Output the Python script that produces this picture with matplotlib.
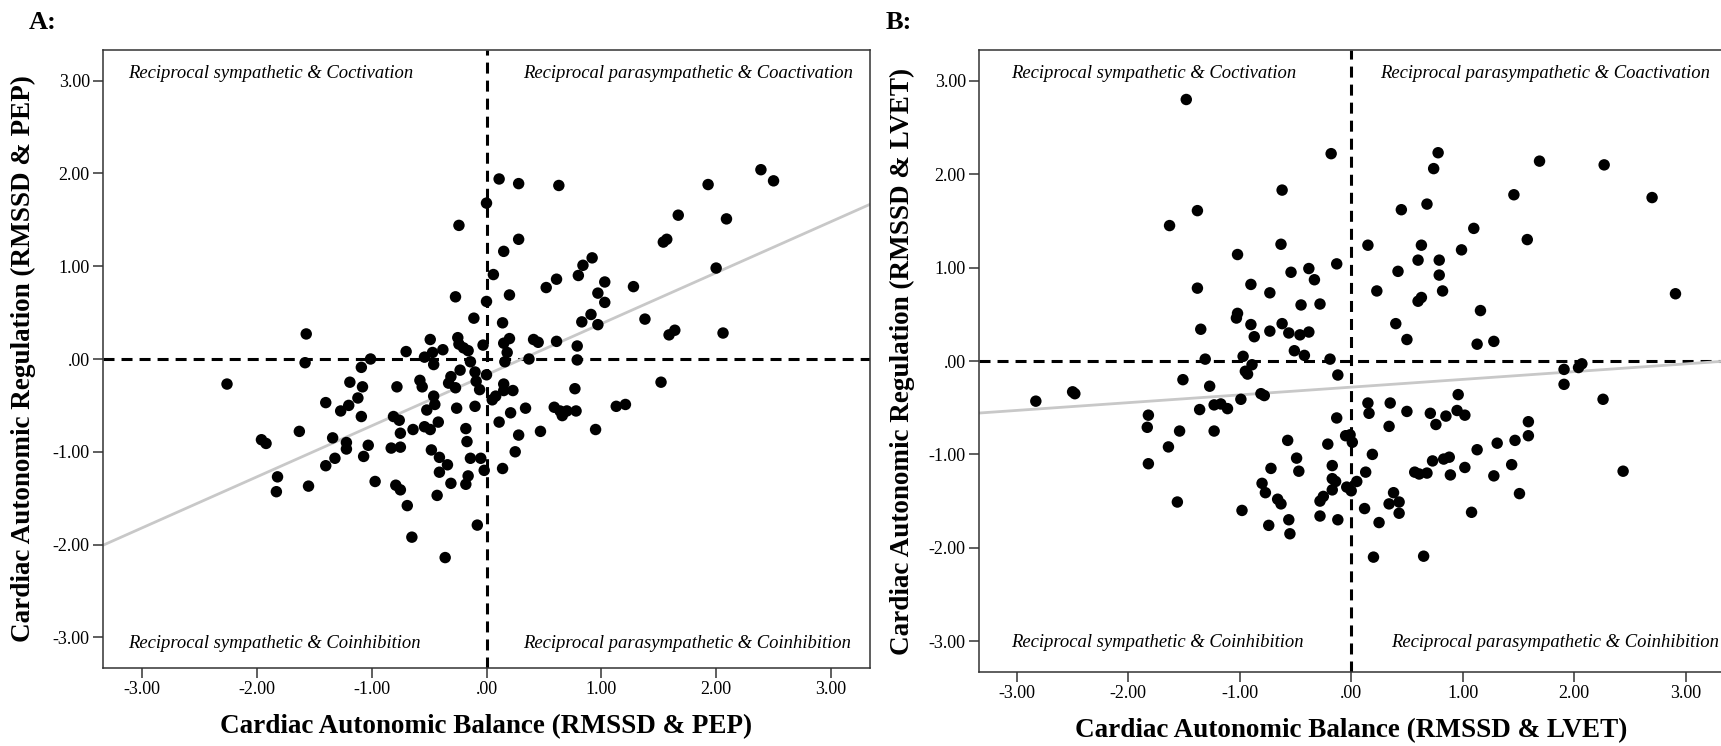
import numpy as np
import matplotlib
matplotlib.use("Agg")
import matplotlib.pyplot as plt
import matplotlib.ticker as mticker

# --- 0. Global style settings ---
plt.rcParams['font.family'] = 'serif'
plt.rcParams['font.serif'] = ['Liberation Serif', 'DejaVu Serif']
plt.rcParams['axes.unicode_minus'] = False
TICK_FONTSIZE = 13
LABEL_FONTSIZE = 19.5
QUAD_FONTSIZE = 13.4

# --- 1. Data ---
# Panel A: balance / regulation from RMSSD & PEP
a_balance = [
    -1.57, -1.58, -1.09, -1.01, -0.70, -0.54, -0.49, -0.47, -0.46, -0.38,
    -0.27, -0.24, -0.25, -0.24, -0.20, -0.16, -0.14, -0.11, -0.03, 0.00,
    0.00, 0.06, 0.11, 0.15, 0.14, 0.15, 0.18, 0.16, 0.20, 0.20,
    0.28, 0.28, 0.37, 0.41, 0.45, 0.52, 0.61, 0.61, 0.63, 0.79,
    0.79, 0.80, 0.84, 0.83, 0.91, 0.92, 0.97, 0.97, 1.03, 1.03,
    1.28, 1.38, 1.54, 1.57, 1.59, 1.64, 1.67, 1.93, 2.00, 2.06,
    2.09, 2.39, 2.50,
    -2.26, -1.19, -1.08, -1.40, -1.20, -1.12, -1.27, -1.09, -0.78, -0.81,
    -0.76, -1.63, -1.34, -1.22, -1.22, -1.03, -1.07, -1.32, -1.40, -1.96,
    -1.92, -1.82, -1.83, -1.55, -0.97, -0.79, -0.75, -0.69, -0.65, -0.36,
    -0.08, -0.83, -0.75, -0.75, -0.64, -0.54, -0.49, -0.48, -0.42, -0.58,
    -0.56, -0.46, -0.45, -0.52, -0.41, -0.34, -0.41, -0.43, -0.31, -0.31,
    -0.27, -0.23, -0.33, -0.26, -0.10, -0.10, -0.06, 0.00, -0.09, -0.18,
    -0.17, -0.14, -0.05, -0.02, -0.16, -0.18, 0.05, 0.08, 0.11, 0.15,
    0.15, 0.23, 0.21, 0.28, 0.25, 0.14, 0.34, 0.47, 0.59, 0.64,
    0.66, 0.70, 0.78, 0.77, 0.95, 1.13, 1.21, 1.52,
]
a_regulation = [
    0.27, -0.04, -0.09, 0.00, 0.08, 0.02, 0.21, 0.07, -0.06, 0.10,
    0.67, 1.44, 0.23, 0.16, 0.12, 0.09, -0.03, 0.44, 0.15, 0.62,
    1.68, 0.91, 1.94, 1.16, 0.39, 0.17, 0.07, -0.03, 0.22, 0.69,
    1.29, 1.89, 0.00, 0.21, 0.18, 0.77, 0.86, 0.19, 1.87, 0.14,
    -0.01, 0.90, 1.01, 0.40, 0.48, 1.09, 0.71, 0.37, 0.83, 0.61,
    0.78, 0.43, 1.26, 1.29, 0.26, 0.31, 1.55, 1.88, 0.98, 0.28,
    1.51, 2.04, 1.92,
    -0.27, -0.25, -0.30, -0.47, -0.50, -0.42, -0.56, -0.62, -0.30, -0.62,
    -0.66, -0.78, -0.85, -0.90, -0.97, -0.93, -1.05, -1.07, -1.15, -0.87,
    -0.91, -1.27, -1.43, -1.37, -1.32, -1.36, -1.41, -1.58, -1.92, -2.14,
    -1.79, -0.96, -0.95, -0.80, -0.76, -0.73, -0.76, -0.98, -0.68, -0.23,
    -0.30, -0.40, -0.49, -0.55, -1.06, -1.14, -1.22, -1.47, -1.34, -0.19,
    -0.31, -0.12, -0.26, -0.53, -0.51, -0.14, -0.33, -0.17, -0.24, -0.75,
    -0.89, -1.07, -1.07, -1.20, -1.26, -1.35, -0.44, -0.40, -0.68, -0.27,
    -0.34, -0.34, -0.58, -0.82, -1.00, -1.18, -0.53, -0.78, -0.52, -0.56,
    -0.61, -0.56, -0.56, -0.32, -0.76, -0.51, -0.49, -0.25,
]

# Panel B: balance / regulation from RMSSD & LVET
b_balance = [
    -1.48, -0.18, 0.78, 0.74, 1.69, 2.27, -0.62, 1.46, 2.70, -1.38,
    0.45, 0.68, -1.63, 1.10, 1.58, 0.15, -0.63, 0.63, 0.99, -1.02,
    -0.13, -0.38, -0.54, -0.33, -0.90, 0.42, 0.60, 0.79, 0.79, -1.38,
    0.23, 0.82, -0.73, 0.60, 0.63, -0.45, -0.28, 2.91, -1.02, -1.03,
    1.16, -0.90, -0.62, -1.35, -0.73, -0.87, -0.56, -0.46, -0.38, 0.40,
    0.50, 1.13, 1.28, -0.51, -0.42, -1.31, -0.97, -0.19,
    -2.83, -2.50, -2.48, -1.51, -1.27, -0.95, -0.93, -0.89, -0.81, -0.78,
    -0.99, -1.36, -1.23, -1.17, -1.11, -1.82, -1.83, -1.54, -1.23, -1.64,
    -1.82, -1.56, -0.98, -0.57, -0.49, -0.47, -0.72, -0.80, -0.77, -0.66,
    -0.63, -0.74, -0.56, -0.55, -0.21, -0.17, -0.17, -0.14, -0.17, -0.25,
    -0.28, -0.28, -0.12, -0.12, -0.13, -0.05, -0.01, 0.01, -0.04, 0.00,
    0.05, 0.15, 0.16, 0.35, 0.34, 0.50, 0.19, 0.13, 0.12, 0.25,
    0.20, 0.38, 0.34, 0.43, 0.43, 0.57, 0.61, 0.68, 0.65, 0.71,
    0.76, 0.85, 0.95, 1.02, 0.96, 0.73, 0.83, 0.88, 0.89, 1.02,
    1.13, 1.31, 1.47, 1.59, 1.59, 1.28, 1.44, 1.51, 1.08, 1.91,
    1.91, 2.04, 2.07, 2.26, 2.44,
]
b_regulation = [
    2.80, 2.22, 2.23, 2.06, 2.14, 2.10, 1.83, 1.78, 1.75, 1.61,
    1.62, 1.68, 1.45, 1.42, 1.30, 1.24, 1.25, 1.24, 1.19, 1.14,
    1.04, 0.99, 0.95, 0.87, 0.82, 0.96, 1.08, 1.08, 0.92, 0.78,
    0.75, 0.75, 0.73, 0.64, 0.68, 0.60, 0.61, 0.72, 0.51, 0.46,
    0.54, 0.39, 0.40, 0.34, 0.32, 0.26, 0.30, 0.28, 0.31, 0.40,
    0.23, 0.18, 0.21, 0.11, 0.06, 0.02, 0.05, 0.02,
    -0.43, -0.33, -0.35, -0.20, -0.27, -0.11, -0.14, -0.04, -0.35, -0.37,
    -0.41, -0.52, -0.47, -0.46, -0.51, -0.58, -0.71, -0.75, -0.75, -0.92,
    -1.10, -1.51, -1.60, -0.85, -1.04, -1.18, -1.15, -1.31, -1.41, -1.48,
    -1.53, -1.76, -1.70, -1.85, -0.89, -1.12, -1.26, -1.29, -1.38, -1.45,
    -1.50, -1.66, -1.70, -0.15, -0.61, -0.80, -0.79, -0.87, -1.35, -1.39,
    -1.29, -0.45, -0.56, -0.45, -0.70, -0.54, -1.00, -1.19, -1.58, -1.73,
    -2.10, -1.41, -1.53, -1.51, -1.63, -1.19, -1.21, -1.20, -2.09, -0.56,
    -0.68, -0.59, -0.53, -0.58, -0.36, -1.07, -1.05, -1.03, -1.22, -1.14,
    -0.95, -0.88, -0.85, -0.65, -0.80, -1.23, -1.11, -1.42, -1.62, -0.09,
    -0.25, -0.07, -0.03, -0.41, -1.18,
]

# fit lines (slope, intercept) as shown in the figure
fit_a = (0.55, -0.17)
fit_b = (0.083, -0.28)

tick_values = [-3, -2, -1, 0, 1, 2, 3]
quad_labels = [
    'Reciprocal sympathetic & Coctivation',
    'Reciprocal parasympathetic & Coactivation',
    'Reciprocal sympathetic & Coinhibition',
    'Reciprocal parasympathetic & Coinhibition',
]


def spss_fmt(v, pos):
    s = f"{v:.2f}"
    if s in ("0.00", "-0.00"):
        return ".00"
    return s


# --- 2. Plotting function ---
def draw_panel(ax, bal, reg, fit, xlabel, ylabel, quad_x, quad_y):
    ax.set_xlim(-3.34, 3.34)
    ax.set_ylim(-3.33, 3.33)

    dash = (0, (3.6, 2.3))
    ax.axhline(0, color='black', lw=2.2, ls=dash, zorder=1)
    ax.axvline(0, color='black', lw=2.2, ls=dash, zorder=1)

    xs = np.array(ax.get_xlim())
    ax.plot(xs, fit[0] * xs + fit[1], color='#c8c8c8', lw=2.0, zorder=2)

    ax.scatter(bal, reg, s=68, color='black', edgecolors='none', zorder=3)

    for txt, x, y in zip(quad_labels, quad_x, quad_y):
        ax.text(x, y, txt, fontsize=QUAD_FONTSIZE, style='italic',
                ha='left', va='center', zorder=4)

    ax.set_xticks(tick_values)
    ax.set_yticks(tick_values)
    ax.xaxis.set_major_formatter(mticker.FuncFormatter(spss_fmt))
    ax.yaxis.set_major_formatter(mticker.FuncFormatter(spss_fmt))
    ax.tick_params(direction='out', length=7, width=1.1, color='#333333',
                   labelsize=TICK_FONTSIZE, pad=2.5)
    for sp in ax.spines.values():
        sp.set_color('#333333')
        sp.set_linewidth(1.1)

    ax.set_xlabel(xlabel, fontsize=LABEL_FONTSIZE, fontweight='bold')
    ax.set_ylabel(ylabel, fontsize=LABEL_FONTSIZE, fontweight='bold')


W, H = 1721, 746
fig = plt.figure(figsize=(W / 100, H / 100), dpi=100)

ax_a = fig.add_axes([103 / W, (H - 668) / H, 767 / W, 618 / H])
draw_panel(ax_a, a_balance, a_regulation, fit_a,
           'Cardiac Autonomic Balance (RMSSD & PEP)',
           'Cardiac Autonomic Regulation (RMSSD & PEP)',
           quad_x=[-3.12, 0.32, -3.12, 0.32],
           quad_y=[3.08, 3.08, -3.07, -3.07])
ax_a.xaxis.set_label_coords(0.5, -0.074)
ax_a.yaxis.set_label_coords((36 - 103) / 767, 0.5)

ax_b = fig.add_axes([979 / W, (H - 672) / H, 744.4 / W, 622 / H])
draw_panel(ax_b, b_balance, b_regulation, fit_b,
           'Cardiac Autonomic Balance (RMSSD & LVET)',
           'Cardiac Autonomic Regulation (RMSSD & LVET)',
           quad_x=[-3.05, 0.26, -3.05, 0.36],
           quad_y=[3.08, 3.08, -3.01, -3.01])
ax_b.xaxis.set_label_coords(0.5, -0.074)
ax_b.yaxis.set_label_coords((915 - 979) / 744.4, 0.5)

fig.text(29 / W, 1 - 11 / H, 'A:', fontsize=19, fontweight='bold', ha='left', va='top')
fig.text(886 / W, 1 - 11 / H, 'B:', fontsize=19, fontweight='bold', ha='left', va='top')

fig.savefig('out.png', dpi=100)
